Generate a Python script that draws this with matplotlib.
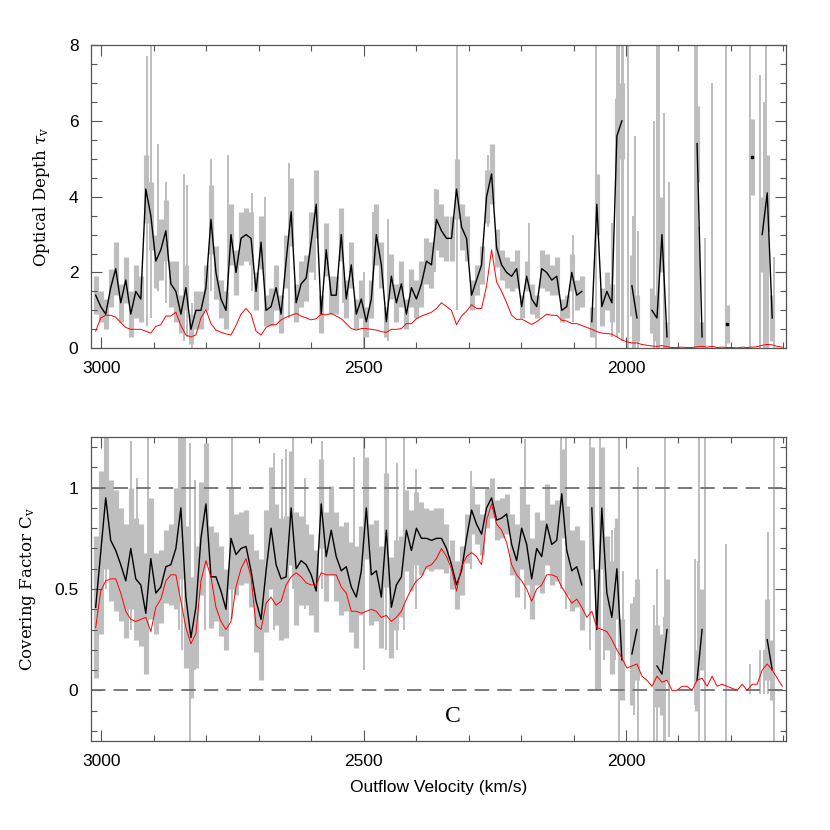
import numpy as np
import matplotlib.pyplot as plt
from matplotlib.ticker import MultipleLocator

nan = np.nan

# sampling grid of the absorption trough (km/s)
velocity = np.linspace(3011, 1702, 138)

# optical depth: measured (black), its error, and model (red)
tau_obs = [1.4, 1.1, 0.9, 1.6, 2.1, 1.2, 1.8, 0.9, 1.5, 1.3,
           4.2, 3.5, 2.3, 2.6, 3.1, 1.7, 1.5, 0.9, 1.6, 0.5,
           1.0, 1.0, 1.6, 3.4, 2.0, 1.3, 1.0, 3.0, 2.0, 2.9,
           3.0, 2.9, 1.5, 2.8, 1.0,
           1.1, 1.6, 0.9, 2.3, 3.6, 1.2, 1.7, 1.85, 2.8, 3.8,
           0.9, 2.6, 1.4, 1.4, 3.0, 1.3, 2.2, 0.9, 1.3, 0.7,
           1.3, 3.0, 2.2, 0.7, 1.9, 1.2, 1.7, 0.9, 1.6, 1.3,
           1.7, 2.3, 2.2, 3.4, 3.1,
           2.9, 2.9, 4.2, 3.2, 2.9, 1.4, 1.8, 2.2, 4.0, 4.6,
           2.65, 2.2, 2.0, 1.9, 2.1, 1.1, 1.9, 1.3, 1.1, 2.1,
           2.0, 1.8, 1.9, 1.0, 1.1, 2.0, 1.4, 1.5, nan, 0.7,
           3.8, 1.1, 1.5, 1.2,
           5.6, 6.0, nan, 1.65, 0.8, nan, nan, 1.0, 0.8, 3.0,
           0.3, nan, nan, nan, nan, nan, 5.4, 0.3, nan, nan,
           nan, nan, 0.65, nan, nan, nan, nan, 5.05, nan, 3.0,
           4.1, 0.8, nan, nan]
tau_err = [0.5, 0.4, 0.4, 0.5, 0.7, 0.5, 0.6, 0.6, 0.7, 0.6,
           0.9, 0.9, 0.7, 0.8, 0.8, 0.6, 0.8, 0.5, 0.6, 0.4,
           0.5, 0.5, 0.6, 0.9, 0.7, 0.5, 0.5, 0.8, 0.6, 0.7,
           0.7, 0.7, 0.5, 0.7, 0.4,
           0.5, 0.6, 0.5, 0.7, 0.9, 0.5, 0.6, 0.6, 0.8, 0.9,
           0.5, 0.7, 0.5, 0.5, 0.7, 0.5, 0.6, 0.4, 0.5, 0.4,
           0.5, 0.8, 0.6, 0.4, 0.6, 0.5, 0.6, 0.4, 0.5, 0.5,
           0.6, 0.6, 0.6, 0.8, 0.7,
           0.6, 0.6, 0.8, 0.6, 0.6, 0.4, 0.4, 0.5, 0.7, 0.8,
           0.5, 0.4, 0.4, 0.4, 0.5, 0.3, 0.4, 0.4, 0.3, 0.5,
           0.5, 0.4, 0.5, 0.3, 0.3, 0.5, 0.4, 0.4, nan, 0.4,
           0.8, 0.5, 0.5, 0.5,
           1.0, 1.0, nan, 0.8, 0.6, nan, nan, 0.6, 0.6, 1.0,
           0.4, nan, nan, nan, nan, nan, 1.0, 0.4, nan, nan,
           nan, nan, 0.5, nan, nan, nan, nan, 1.0, nan, 1.0,
           1.0, 0.6, nan, nan]
tau_red = [0.45, 0.8, 0.87, 0.87, 0.82, 0.68, 0.55, 0.5, 0.5, 0.5,
           0.45, 0.4, 0.58, 0.62, 0.85, 0.85, 0.95, 0.6, 0.35, 0.3,
           0.35, 0.8, 1.02, 0.65, 0.48, 0.42, 0.38, 0.35, 0.6, 0.9,
           1.05, 0.9, 0.45, 0.35, 0.55,
           0.62, 0.62, 0.75, 0.82, 0.87, 0.92, 0.85, 0.8, 0.75, 0.78,
           0.9, 0.88, 0.92, 0.85, 0.78, 0.65, 0.52, 0.48, 0.52, 0.52,
           0.5, 0.48, 0.44, 0.42, 0.5, 0.5, 0.52, 0.65, 0.65, 0.78,
           0.85, 0.9, 0.95, 1.05, 1.2,
           1.1, 1.0, 0.62, 0.85, 0.98, 1.15, 1.05, 1.05, 1.65, 2.6,
           1.75, 1.5, 1.2, 0.87, 0.76, 0.77, 0.7, 0.63, 0.7, 0.8,
           0.9, 0.87, 0.87, 0.74, 0.72, 0.65, 0.65, 0.6, 0.55, 0.5,
           0.44, 0.4, 0.39, 0.37,
           0.3, 0.22, 0.17, 0.14, 0.14, 0.1, 0.08, 0.06, 0.05, 0.07,
           0.04, 0.02, 0.02, 0.03, 0.02, 0.02, 0.04, 0.05, 0.03, 0.05,
           0.02, 0.03, 0.02, 0.02, 0.01, 0.03, 0.02, 0.03, 0.04, 0.08,
           0.1, 0.09, 0.05, 0.03]

# covering factor: measured (black), its error, and model (red)
cov_obs = [0.41, 0.68, 0.95, 0.74, 0.69, 0.62, 0.54, 0.70, 0.55, 0.52,
           0.38, 0.65, 0.48, 0.51, 0.61, 0.62, 0.70, 0.90, 0.46, 0.26,
           0.41, 0.75, 0.92, 0.56, 0.56, 0.49, 0.40, 0.75, 0.67, 0.70,
           0.71, 0.59, 0.44, 0.35, 0.59,
           0.80, 0.62, 0.55, 0.56, 0.90, 0.60, 0.64, 0.62, 0.57, 0.49,
           0.92, 0.66, 0.79, 0.66, 0.59, 0.61, 0.51, 0.46, 0.59, 0.90,
           0.57, 0.59, 0.46, 0.79, 0.41, 0.52, 0.56, 0.79, 0.69, 0.80,
           0.75, 0.75, 0.74, 0.75, 0.75,
           0.70, 0.62, 0.52, 0.59, 0.75, 0.89, 0.82, 0.77, 0.90, 0.95,
           0.84, 0.85, 0.87, 0.72, 0.64, 0.80, 0.72, 0.55, 0.70, 0.66,
           0.82, 0.72, 0.74, 0.97, 0.69, 0.59, 0.61, 0.52, nan, 0.90,
           0.30, 0.90, 0.48, 0.36,
           0.6, 0.15, nan, 0.18, 0.30, nan, nan, nan, 0.12, 0.08,
           0.30, nan, nan, nan, nan, nan, 0.05, 0.30, nan, nan,
           nan, nan, nan, nan, nan, nan, nan, nan, nan, nan,
           0.25, 0.1, nan, nan]
cov_err = [0.35, 0.4, 0.35, 0.3, 0.3, 0.28, 0.28, 0.3, 0.3, 0.3,
           0.3, 0.3, 0.2, 0.18, 0.18, 0.2, 0.3, 0.35, 0.35, 0.3,
           0.3, 0.28, 0.3, 0.25, 0.22, 0.22, 0.2, 0.25, 0.2, 0.18,
           0.18, 0.18, 0.25, 0.3, 0.3,
           0.3, 0.3, 0.3, 0.3, 0.28, 0.28, 0.22, 0.2, 0.2, 0.2,
           0.22, 0.22, 0.22, 0.22, 0.22, 0.22, 0.22, 0.25, 0.22, 0.25,
           0.25, 0.25, 0.25, 0.28, 0.25, 0.22, 0.2, 0.2, 0.2, 0.18,
           0.18, 0.15, 0.15, 0.15, 0.15,
           0.12, 0.12, 0.12, 0.12, 0.12, 0.12, 0.1, 0.1, 0.1, 0.1,
           0.1, 0.1, 0.1, 0.15, 0.18, 0.2, 0.2, 0.2, 0.18, 0.18,
           0.2, 0.2, 0.2, 0.22, 0.22, 0.2, 0.2, 0.22, nan, 0.3,
           0.3, 0.3, 0.28, 0.28,
           0.25, 0.2, nan, 0.25, 0.25, nan, nan, nan, 0.2, 0.2,
           0.25, nan, nan, nan, nan, nan, 0.15, 0.2, nan, nan,
           nan, nan, nan, nan, nan, nan, nan, nan, nan, nan,
           0.2, 0.15, nan, nan]
cov_red = [0.31, 0.49, 0.54, 0.55, 0.55, 0.48, 0.39, 0.35, 0.34, 0.35,
           0.36, 0.29, 0.41, 0.45, 0.54, 0.57, 0.57, 0.44, 0.31, 0.23,
           0.28, 0.54, 0.64, 0.56, 0.41, 0.34, 0.30, 0.34, 0.51, 0.60,
           0.65, 0.56, 0.32, 0.30, 0.43,
           0.46, 0.42, 0.44, 0.52, 0.56, 0.58, 0.56, 0.53, 0.52, 0.52,
           0.58, 0.57, 0.57, 0.57, 0.51, 0.48, 0.39, 0.39, 0.38, 0.39,
           0.40, 0.39, 0.36, 0.37, 0.34, 0.36, 0.39, 0.45, 0.50, 0.54,
           0.56, 0.61, 0.62, 0.65, 0.70,
           0.66, 0.60, 0.49, 0.61, 0.66, 0.68, 0.66, 0.62, 0.84, 0.92,
           0.82, 0.79, 0.73, 0.62, 0.57, 0.54, 0.50, 0.44, 0.50, 0.52,
           0.57, 0.57, 0.56, 0.51, 0.47, 0.43, 0.45, 0.41, 0.36, 0.39,
           0.31, 0.30, 0.29, 0.25,
           0.20, 0.16, 0.11, 0.12, 0.13, 0.07, 0.05, 0.02, 0.07, 0.04,
           0.05, 0.0, 0.0, 0.02, 0.02, 0.0, 0.05, 0.06, 0.02, 0.07,
           0.02, 0.03, 0.02, 0.01, 0.0, 0.03, 0.0, 0.03, 0.03, 0.10,
           0.13, 0.10, 0.06, 0.02]

# individual pixels with very large error bars: velocity, low, high
tau_spike_v = [2914, 2905, 2892, 2876, 2842, 2836, 2828, 2791, 2758, 2713,
               2688, 2643, 2592, 2540, 2500, 2482, 2453, 2364, 2322, 2263,
               2185, 2101, 2057, 2027, 2017, 2014, 2008, 2005, 1997, 1987,
               1982, 1977, 1947, 1940, 1937, 1928, 1917, 1868, 1865, 1860,
               1850, 1836, 1809, 1763, 1744, 1736, 1733, 1729, 1717]
tau_spike_lo = [0.6, 0.8, 1.5, 1.2, 0.2, 0.3, 0.0, 1.5, 1.5, 1.5,
                1.0, 0.8, 1.8, 1.2, 0.0, 1.5, 0.2, 2.0, 1.0, 3.2,
                1.5, 0.7, 0.0, 0.3, 0.3, 0.4, 0.2, 0.2, 0.0, 0.0,
                0.0, 0.0, 0.0, 0.0, 0.0, 0.0, 0.0, 0.0, 0.0, 0.0,
                0.0, 0.0, 0.0, 0.0, 0.0, 0.0, 0.0, 0.0, 0.0]
tau_spike_hi = [7.7, 8.5, 5.4, 4.4, 4.6, 4.3, 1.2, 5.0, 5.1, 4.1,
                4.0, 4.9, 4.6, 3.6, 2.0, 3.6, 3.4, 4.2, 8.5, 5.1,
                3.3, 3.0, 8.5, 3.3, 8.5, 8.5, 8.5, 8.5, 8.5, 3.5,
                5.6, 3.1, 6.0, 8.5, 8.5, 6.2, 4.4, 8.5, 8.5, 3.2,
                2.9, 7.0, 8.5, 8.5, 7.2, 6.5, 8.5, 3.2, 2.4]

cov_spike_v = [2992, 2943, 2933, 2911, 2852, 2847, 2841, 2831, 2822, 2803,
               2752, 2671, 2655, 2649, 2635, 2611, 2579, 2519, 2500, 2457,
               2436, 2423, 2400, 2295, 2193, 2123, 2114, 2068, 2050, 2041,
               2027, 2020, 2014, 2005, 1984, 1977, 1947, 1941, 1928, 1926,
               1917, 1868, 1863, 1860, 1850, 1809, 1763, 1744, 1736, 1730,
               1718]
cov_spike_lo = [0.5, 0.3, 0.3, 0.2, 0.3, 0.2, 0.2, -0.3, 0.1, 0.3,
                0.35, 0.3, 0.4, 0.4, 0.5, 0.4, 0.5, 0.3, 0.1, 0.2,
                0.2, 0.3, 0.4, 0.6, 0.4, 0.5, 0.4, 0.2, 0.0, 0.15,
                0.13, 0.15, -0.3, -0.03, -0.12, -0.3, -0.25, -0.25, -0.25, -0.3,
                -0.23, -0.07, -0.08, -0.3, -0.3, -0.25, -0.02, -0.02, -0.02, -0.02,
                -0.3]
cov_spike_hi = [1.3, 1.23, 1.05, 1.3, 1.3, 1.3, 1.25, 1.22, 1.04, 1.14,
                1.3, 1.17, 1.14, 1.19, 1.25, 1.05, 1.23, 1.15, 1.3, 1.3,
                1.12, 1.3, 1.09, 1.08, 1.24, 1.3, 1.3, 1.3, 1.3, 1.04,
                0.79, 0.8, 1.3, 0.59, 0.46, 1.1, 0.42, 0.6, 0.36, 1.3,
                0.4, 0.65, 0.64, 1.3, 1.3, 0.72, 0.13, 0.2, 0.2, 0.78,
                1.3]

GRAY = '#bebebe'
AXC = '#555555'

plt.rcParams['mathtext.fontset'] = 'dejavuserif'

fig = plt.figure(figsize=(8.3, 8.3), dpi=100)
ax1 = fig.add_axes([0.1096, 0.5804, 0.8373, 0.3653])
ax2 = fig.add_axes([0.1096, 0.1072, 0.8373, 0.3663])


def draw_panel(ax, obs, err, red, sv, slo, shi):
    obs = np.array(obs)
    err = np.array(err)
    ok = ~np.isnan(obs) & ~np.isnan(err)
    # gray error band, one bar per pixel
    ax.vlines(velocity[ok], obs[ok] - err[ok], obs[ok] + err[ok],
              color=GRAY, lw=3.7, zorder=1)
    ax.vlines(sv, slo, shi, color=GRAY, lw=1.4, zorder=1)
    ax.plot(velocity, obs, color='black', lw=1.0, zorder=3)
    # single valid pixels between gaps show up as dots
    good = ~np.isnan(obs)
    prev = np.r_[False, good[:-1]]
    nxt = np.r_[good[1:], False]
    lone = good & ~prev & ~nxt
    ax.plot(velocity[lone], obs[lone], ls='', marker='s', ms=1.5,
            color='black', zorder=3)
    ax.plot(velocity, red, color='red', lw=0.7, zorder=4)


draw_panel(ax1, tau_obs, tau_err, tau_red, tau_spike_v, tau_spike_lo, tau_spike_hi)
draw_panel(ax2, cov_obs, cov_err, cov_red, cov_spike_v, cov_spike_lo, cov_spike_hi)

for y in (0, 1):
    ax2.axhline(y, color='#707070', lw=1.3, dashes=(8, 4.5), zorder=2)

ax1.set_ylim(0, 8)
ax1.yaxis.set_major_locator(MultipleLocator(2))
ax1.yaxis.set_minor_locator(MultipleLocator(0.5))
ax2.set_ylim(-0.25, 1.25)
ax2.set_yticks([0, 0.5, 1])
ax2.set_yticklabels(['0', '0.5', '1'])
ax2.yaxis.set_minor_locator(MultipleLocator(0.1))

for ax in (ax1, ax2):
    ax.set_xlim(3020, 1695)
    ax.xaxis.set_major_locator(MultipleLocator(500))
    ax.xaxis.set_minor_locator(MultipleLocator(100))
    ax.tick_params(which='both', direction='in', top=True, right=True,
                   color=AXC, width=0.8, labelsize=12.5, pad=9,
                   labelfontfamily='Liberation Sans')
    ax.tick_params(which='major', length=8)
    ax.tick_params(which='minor', length=4)
    for s in ax.spines.values():
        s.set_color(AXC)
        s.set_linewidth(0.9)

ax1.set_ylabel(r'Optical Depth $\tau_{\rm v}$', family='DejaVu Serif',
               fontsize=12, labelpad=12)
ax2.set_ylabel(r'Covering Factor C$_{\rm v}$', family='DejaVu Serif',
               fontsize=12, labelpad=12)
ax2.set_xlabel('Outflow Velocity (km/s)', family='Liberation Sans',
               fontsize=12.5, labelpad=8)

ax2.text(2330, -0.13, 'C', family='Liberation Serif', fontsize=17,
         ha='center', va='center')

fig.savefig('out.png', dpi=100)
